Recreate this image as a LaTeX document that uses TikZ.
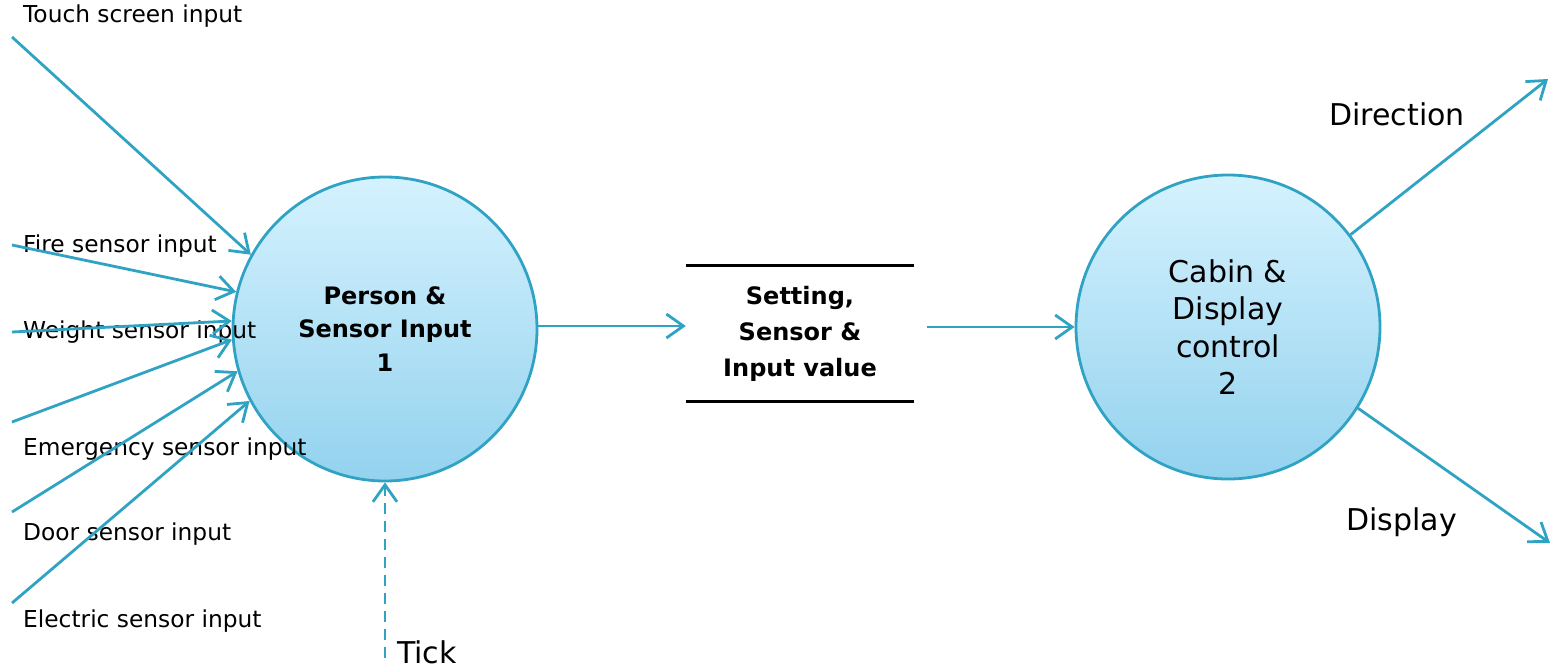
\documentclass[tikz,border=0pt]{standalone}
\usepackage{fontspec}
\setmainfont{DejaVu Sans}
\usetikzlibrary{arrows.meta,calc}
\definecolor{flowc}{HTML}{30A3C4}
\definecolor{topc}{HTML}{D5F2FE}
\definecolor{botc}{HTML}{93D2EE}
\tikzset{
  process/.style={circle, draw=flowc, line width=2.8pt, top color=topc, bottom color=botc, minimum size=304pt, inner sep=0pt, align=center},
  flow/.style={draw=flowc, line width=2.8pt, -{Straight Barb[length=17pt,width=24pt]}},
  lbl/.style={font=\fontsize{23.3}{27}\selectfont, anchor=base west, inner sep=0pt},
  biglbl/.style={font=\fontsize{30}{36}\selectfont, anchor=base west, inner sep=0pt},
  storebox/.style={minimum width=228pt, minimum height=135pt, inner sep=0pt, align=center, font=\bfseries\fontsize{24}{36}\selectfont}
}
\begin{document}
\begin{tikzpicture}[x=1pt,y=-1pt]
\useasboundingbox (0,0) rectangle (1554,669);
% processes
\node[process, font=\bfseries\fontsize{24}{33.5}\selectfont] (p1) at (385,329) {Person \&\\Sensor Input\\1};
\node[process, font=\fontsize{30}{37.5}\selectfont] (p2) at (1228,327) {Cabin \&\\Display\\control\\2};
% data store
\node[storebox] (st) at (800,333.5) {Setting,\\Sensor \&\\Input value};
\draw[line width=3pt] (st.north west) -- (st.north east);
\draw[line width=3pt] (st.south west) -- (st.south east);
% input sources
\coordinate (s1) at (12,37);
\coordinate (s2) at (12,245);
\coordinate (s3) at (12,332);
\coordinate (s4) at (12,422);
\coordinate (s5) at (12,512);
\coordinate (s6) at (12,603);
\coordinate (tk) at (385,658);
\coordinate (o1) at (1548,79);
\coordinate (o2) at (1550,543);
% labels
\node[lbl] (l1) at (23,23) {Touch screen input};
\node[lbl] (l2) at (23,252) {Fire sensor input};
\node[lbl] (l3) at (23,338) {Weight sensor input};
\node[lbl] (l4) at (23,455) {Emergency sensor input};
\node[lbl] (l5) at (23,540) {Door sensor input};
\node[lbl] (l6) at (23,627) {Electric sensor input};
\node[biglbl] (lt) at (397,663) {Tick};
\node[biglbl] (ld) at (1329,125) {Direction};
\node[biglbl] (lp) at (1346,530) {Display};
% flows
\draw[flow] (s1) -- (p1.151.6);
\draw[flow] (s2) -- (p1.166.9);
\draw[flow] (s3) -- (p1.177.3);
\draw[flow] (s4) -- (p1.184.6);
\draw[flow] (s5) -- (p1.196.6);
\draw[flow] (s6) -- (p1.208.9);
\draw[flow, dash pattern=on 11pt off 7pt] (tk) -- (p1.south);
\draw[flow] ($(p1.east)+(0,-3)$) -- (st.west |- {$(p1.east)+(0,-3)$});
\draw[flow] ($(st.east |- p2.west)+(13,0)$) -- (p2.west);
\draw[flow] (p2.37.5) -- (o1);
\draw[flow] (p2.-32.8) -- (o2);
\end{tikzpicture}
\end{document}
